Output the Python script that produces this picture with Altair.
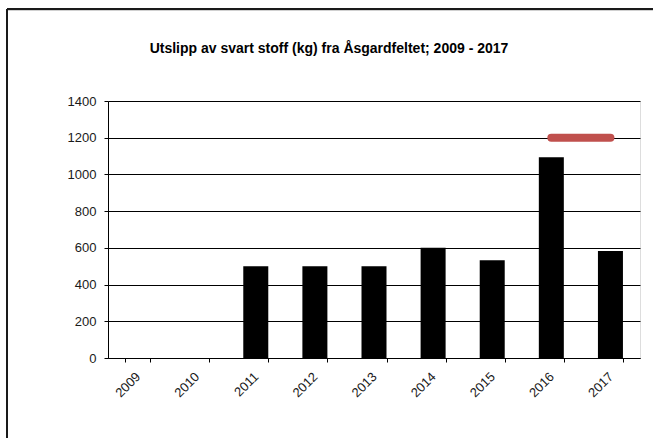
import altair as alt
import pandas as pd

# Annual black-substance discharges (kg) from the Åsgard field
years = ["2009", "2010", "2011", "2012", "2013", "2014", "2015", "2016", "2017"]
discharge_kg = [None, None, 500, 500, 500, 600, 533, 1093, 583]

# Reference level drawn across the last two years
level_years = ["2016", "2017"]
level_kg = [1200, 1200]

y_ticks = [0, 200, 400, 600, 800, 1000, 1200, 1400]

title_text = "Utslipp av svart stoff (kg) fra Åsgardfeltet; 2009 - 2017"

FONT = "Liberation Sans"
W, H = 532, 257

bars_df = pd.DataFrame({"year": years, "kg": discharge_kg})
level_df = pd.DataFrame({"year": level_years, "kg": level_kg})

x_scale = alt.Scale(domain=years, paddingInner=0.577, paddingOuter=0.2885)
y_scale = alt.Scale(domain=[0, 1400], nice=False)

bars = (
    alt.Chart(bars_df)
    .mark_bar(color="#000000")
    .encode(
        x=alt.X(
            "year:N",
            scale=x_scale,
            sort=years,
            title=None,
            axis=alt.Axis(
                labelAngle=-45,
                tickBand="extent",
                tickSize=4,
                tickColor="#000000",
                domainColor="#000000",
                labelFont=FONT,
                labelFontSize=13,
                labelColor="#1a1a1a",
                labelPadding=8,
                labelOffset=-4,
                grid=False,
            ),
        ),
        y=alt.Y(
            "kg:Q",
            scale=y_scale,
            title=None,
            axis=alt.Axis(
                values=y_ticks,
                tickCount=len(y_ticks),
                format="d",
                labelOverlap=False,
                labelFlush=False,
                tickSize=4,
                tickColor="#000000",
                domainColor="#000000",
                gridColor="#000000",
                gridWidth=1,
                labelFont=FONT,
                labelFontSize=13,
                labelColor="#1a1a1a",
                labelPadding=8,
            ),
        ),
    )
)

level = (
    alt.Chart(level_df)
    .mark_line(color="#C0504D", strokeWidth=8, strokeCap="round")
    .encode(
        x=alt.X("year:N", scale=x_scale, sort=years),
        y=alt.Y("kg:Q", scale=y_scale),
    )
)

one = alt.Data(values=[{"k": 0}])

# Chart heading, centred on the outer chart area
heading = alt.Chart(one).mark_text(
    text=title_text,
    font=FONT,
    fontSize=14,
    fontWeight="bold",
    color="#000000",
    align="center",
    baseline="alphabetic",
).encode(x=alt.value(221), y=alt.value(-48))

# Outer chart-area frame (left and top edges) with a soft inner shadow
frame_top_shadow = alt.Chart(one).mark_rule(color="#d0d0d0", strokeWidth=1).encode(
    x=alt.value(-100), x2=alt.value(W + 30), y=alt.value(-90.5)
)
frame_left = alt.Chart(one).mark_rule(color="#1a1a1a", strokeWidth=2).encode(
    x=alt.value(-101), y=alt.value(-92), y2=alt.value(H + 90)
)
frame_top = alt.Chart(one).mark_rule(color="#1a1a1a", strokeWidth=2).encode(
    x=alt.value(-101), x2=alt.value(W + 30), y=alt.value(-92)
)

chart = (
    alt.layer(bars, level, heading, frame_top_shadow, frame_left, frame_top)
    .properties(
        width=W,
        height=H,
        autosize=alt.AutoSizeParams(type="none"),
        padding={"left": 108, "top": 101, "right": 13, "bottom": 80},
    )
    .configure_view(stroke="#808080", strokeWidth=1)
    .configure(background="white")
)

chart.save("out.html", embed_options={"renderer": "svg", "actions": False})
